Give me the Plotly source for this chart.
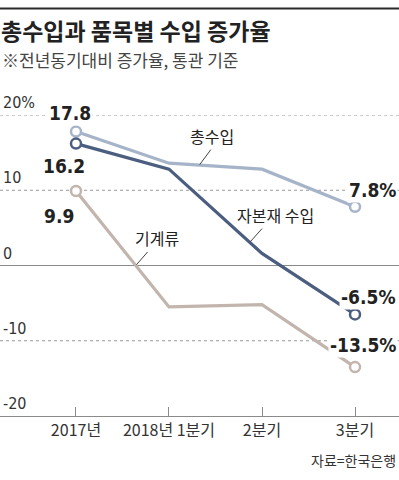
import plotly.graph_objects as go

categories = ["2017년", "2018년 1분기", "2분기", "3분기"]
total_import = [17.8, 13.6, 12.8, 7.8]
capital_goods = [16.2, 12.8, 1.6, -6.5]
machinery = [9.9, -5.5, -5.2, -13.5]
y_ticks = [20, 10, 0, -10, -20]
y_tick_labels = ["20%", "10", "0", "-10", "-20"]

NUM_FONT = "DejaVu Sans Condensed, Liberation Sans Narrow, Roboto, sans-serif"
KR_FONT = "Noto Sans CJK KR, sans-serif"

C_TOTAL = "#a6b4c9"
C_CAP = "#4b5e80"
C_MACH = "#c2b5ad"

xs = list(range(len(categories)))

# layout geometry (paper spans pixel 7..416, data area pixel 115..416)
TOP_M, BOT_M = 7, 64
PAPER_H = 480 - TOP_M - BOT_M
def py(pixel):
    return (480 - BOT_M - pixel) / PAPER_H

fig = go.Figure()

for vals, col in [(machinery, C_MACH), (total_import, C_TOTAL), (capital_goods, C_CAP)]:
    fig.add_trace(go.Scatter(x=xs, y=vals, mode="lines",
                             line=dict(color=col, width=3.2), hoverinfo="skip"))
    fig.add_trace(go.Scatter(x=[xs[0], xs[-1]], y=[vals[0], vals[-1]], mode="markers",
                             marker=dict(size=10, color="white", line=dict(color=col, width=2.5)),
                             hoverinfo="skip", cliponaxis=False))

shapes = []
for v in [20, 10, -10]:
    shapes.append(dict(type="line", xref="paper", yref="y", x0=0, x1=1, y0=v, y1=v,
                       line=dict(color="#999999", width=1, dash="dot"), layer="below"))
shapes.append(dict(type="line", xref="paper", yref="y", x0=0, x1=1, y0=0, y1=0,
                   line=dict(color="#8a8a8a", width=1.2), layer="below"))
# top rule
shapes.append(dict(type="line", xref="paper", yref="paper", x0=0, x1=1, y0=py(8.5), y1=py(8.5),
                   line=dict(color="#2a2a2a", width=2.2), layer="above"))

def leader(x0, y0, x1, y1):
    shapes.append(dict(type="line", xref="x", yref="y", x0=x0, y0=y0, x1=x1, y1=y1,
                       line=dict(color="#444444", width=1)))

ann = []
for v, t in zip(y_ticks, y_tick_labels):
    ann.append(dict(x=0, xref="paper", y=v, yref="y", text=t, showarrow=False,
                    xanchor="left", yanchor="bottom", xshift=1, yshift=1,
                    font=dict(family=NUM_FONT, size=16, color="#333333")))

def val_label(x, y, text, xshift, yshift, xanchor="center"):
    ann.append(dict(x=x, y=y, xref="x", yref="y", text=text, showarrow=False,
                    xanchor=xanchor, yanchor="middle", xshift=xshift, yshift=yshift,
                    bgcolor="white", borderpad=1,
                    font=dict(family=NUM_FONT, size=19, color="#222222")))

val_label(xs[0], total_import[0], f"<b>{total_import[0]}</b>", -6, 19)
val_label(xs[0], capital_goods[0], f"<b>{capital_goods[0]}</b>", -12, -22)
val_label(xs[0], machinery[0], f"<b>{machinery[0]}</b>", -17, -25)
ann_r = [(total_import[-1], 17), (capital_goods[-1], 17), (machinery[-1], 22)]
for v, ys_ in ann_r:
    ann.append(dict(x=1, xref="paper", y=v, yref="y", text=f"<b>{v}%</b>", showarrow=False,
                    xanchor="right", yanchor="middle", xshift=-1, yshift=ys_,
                    bgcolor="white", borderpad=1,
                    font=dict(family=NUM_FONT, size=19, color="#222222")))

def series_label(x, y, text):
    ann.append(dict(x=x, y=y, xref="x", yref="y", text=text, showarrow=False,
                    xanchor="center", yanchor="middle",
                    font=dict(family=KR_FONT, size=16, color="#222222")))

series_label(1.46, 17.2, "총수입")
series_label(2.14, 6.7, "자본재 수입")
series_label(0.87, 3.7, "기계류")
leader(1.45, 15.4, 1.33, 13.4)
leader(2.0, 4.9, 1.87, 3.1)
leader(0.77, 1.8, 0.65, 0.1)

ann.append(dict(x=0, xref="paper", y=py(30), yref="paper", text="<b>총수입과 품목별 수입 증가율</b>",
                showarrow=False, xanchor="left", yanchor="middle", xshift=-1,
                font=dict(family=KR_FONT, size=23, color="#222222")))
ann.append(dict(x=0, xref="paper", y=py(60), yref="paper", text="※전년동기대비 증가율, 통관 기준",
                showarrow=False, xanchor="left", yanchor="middle",
                font=dict(family=KR_FONT, size=17, color="#444444")))
ann.append(dict(x=1, xref="paper", y=py(460), yref="paper", text="자료=한국은행",
                showarrow=False, xanchor="right", yanchor="middle", xshift=-1,
                font=dict(family=KR_FONT, size=14, color="#333333")))

fig.update_layout(
    width=399, height=480,
    margin=dict(l=0, r=0, t=TOP_M, b=BOT_M),
    paper_bgcolor="white", plot_bgcolor="white",
    showlegend=False,
    shapes=shapes, annotations=ann,
    xaxis=dict(range=[-0.817, 3.473], tickvals=xs, ticktext=categories,
               showgrid=False, zeroline=False, showline=True, linecolor="#8a8a8a", linewidth=1.2,
               ticks="inside", ticklen=9, tickcolor="#8a8a8a", tickwidth=1,
               tickfont=dict(family=KR_FONT, size=16, color="#333333"), fixedrange=True),
    yaxis=dict(range=[-20, 20], domain=[0, py(115)], showgrid=False, zeroline=False,
               showticklabels=False, showline=False, fixedrange=True),
)

fig.write_html("out.html", config={"displayModeBar": False},
               post_script="document.body.style.margin='0';document.body.style.overflow='hidden';")
